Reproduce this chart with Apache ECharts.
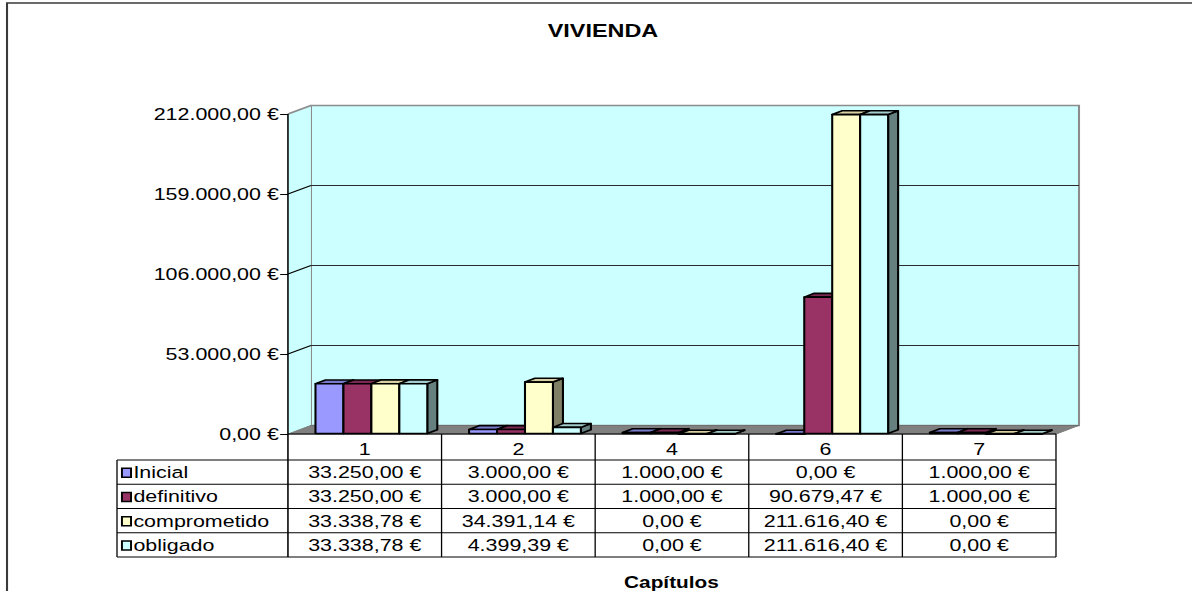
<!DOCTYPE html>
<html>
<head>
<meta charset="utf-8">
<script src="https://cdn.jsdelivr.net/npm/echarts@6/dist/echarts.min.js"></script>
<style>
  html, body { margin: 0; padding: 0; background: #fff; overflow: hidden; width: 1192px; height: 591px; }
  /* the chart is laid out on a narrower surface and widened, like a spreadsheet chart stretched to its cell range */
  #chart { width: 917px; height: 591px; transform: scaleX(1.3); transform-origin: 0 0; }
</style>
</head>
<body>
<div id="chart"></div>
<script>
// ---- data ----
const categories = ['1', '2', '4', '6', '7'];
const seriesNames = ['Inicial', 'definitivo', 'comprometido', 'obligado'];
const inicial      = [33250.00, 3000.00, 1000.00, 0.00, 1000.00];
const definitivo   = [33250.00, 3000.00, 1000.00, 90679.47, 1000.00];
const comprometido = [33338.78, 34391.14, 0.00, 211616.40, 0.00];
const obligado     = [33338.78, 4399.39, 0.00, 211616.40, 0.00];
const yTicks = [0, 53000, 106000, 159000, 212000];
const seriesValues = [inicial, definitivo, comprometido, obligado];

// ---- styling ----
const FONT = "'Liberation Sans', Arial, sans-serif";
const FONT_SIZE = 16.5;
const faces = [
  { front: '#9999FF', top: '#7A7ACC', side: '#4D4D80' },
  { front: '#993366', top: '#7A2952', side: '#4D1A33' },
  { front: '#FFFFCC', top: '#D6D0A3', side: '#808066' },
  { front: '#CCFFFF', top: '#A3CCCC', side: '#668080' }
];
const WALL_DX = 17.7, WALL_DY = -8.5;        // depth of the 3D walls
const BAR_W = 21.5, BAR_DX = 7.7, BAR_DY = -3.8, BAR_START = -37.9;
const ROW_TOP = 460, ROW_H = 24.25, LEGEND_LEFT = 90;
const LINE = '#000';

function euro(v) {
  const parts = v.toFixed(2).split('.');
  return parts[0].replace(/\B(?=(\d{3})+(?!\d))/g, '.') + ',' + parts[1] + ' €';
}
function rowCenter(k) { return ROW_TOP + ROW_H * (k + 0.5) + 0.5; }

// walls, floor, gridlines and the data table frame
function renderFrame(params, api) {
  const cs = params.coordSys;
  const left = cs.x, right = cs.x + cs.width, top = cs.y, bottom = cs.y + cs.height;
  const band = api.size([1, 0])[0];
  const tableBottom = ROW_TOP + ROW_H * seriesNames.length;
  const yMax = yTicks[yTicks.length - 1];
  const kids = [];
  const line = (x1, y1, x2, y2, color, w) => kids.push({
    type: 'line', shape: { x1, y1, x2, y2 }, style: { stroke: color || LINE, lineWidth: w || 1 }
  });

  // back wall
  kids.push({ type: 'rect', shape: { x: left + WALL_DX, y: top + WALL_DY, width: cs.width, height: cs.height },
    style: { fill: '#CCFFFF', stroke: '#8C8C8C', lineWidth: 1.6 } });
  // side wall
  kids.push({ type: 'polygon', shape: { points: [[left, top], [left + WALL_DX, top + WALL_DY], [left + WALL_DX, bottom + WALL_DY], [left, bottom]] },
    style: { fill: '#CCFFFF' } });
  line(left, top, left + WALL_DX, top + WALL_DY, '#8C8C8C', 1.6);

  // gridlines on both walls
  yTicks.forEach(v => {
    const y = api.coord([0, v])[1];
    if (v > 0 && v < yMax) {
      line(left + WALL_DX, y + WALL_DY, right + WALL_DX, y + WALL_DY, '#2a2a2a', 1.1);
      line(left, y, left + WALL_DX, y + WALL_DY, '#000', 1);
    }
  });

  // floor
  kids.push({ type: 'polygon', shape: { points: [[left, bottom], [right, bottom], [right + WALL_DX, bottom + WALL_DY], [left + WALL_DX, bottom + WALL_DY]] },
    style: { fill: '#808080', stroke: '#6f6f6f', lineWidth: 0.8 } });

  // value axis line continuing as the table's left edge
  line(left, top, left, tableBottom, '#000', 1.2);

  // data table
  line(left, bottom, right, bottom, '#000', 1.2);
  for (let k = 0; k <= seriesNames.length; k++) {
    const y = ROW_TOP + ROW_H * k;
    line(LEGEND_LEFT, y, right, y, '#000', 1);
  }
  line(LEGEND_LEFT, ROW_TOP, LEGEND_LEFT, tableBottom, '#000', 1);
  for (let i = 1; i <= categories.length; i++) {
    const x = left + band * i;
    line(x, bottom, x, tableBottom, '#000', 1);
  }
  return { type: 'group', children: kids };
}

// one 3D column plus its table cell (and legend key on the first item)
function makeBarRenderer(s) {
  return function (params, api) {
    const cat = api.value(0), val = api.value(1);
    const topPt = api.coord([cat, val]);
    const basePt = api.coord([cat, 0]);
    const x0 = topPt[0] + BAR_START + s * BAR_W, x1 = x0 + BAR_W;
    const yt = topPt[1], yb = basePt[1] - 0.5;
    const f = faces[s];
    const stroke = { stroke: '#000', lineWidth: 1.6, lineJoin: 'round' };
    const kids = [
      { type: 'polygon', shape: { points: [[x1, yt], [x1 + BAR_DX, yt + BAR_DY], [x1 + BAR_DX, yb + BAR_DY], [x1, yb]] },
        style: Object.assign({ fill: f.side }, stroke) },
      { type: 'polygon', shape: { points: [[x0, yt], [x0 + BAR_DX, yt + BAR_DY], [x1 + BAR_DX, yt + BAR_DY], [x1, yt]] },
        style: Object.assign({ fill: f.top }, stroke) },
      { type: 'rect', shape: { x: x0, y: yt, width: BAR_W, height: yb - yt },
        style: Object.assign({ fill: f.front }, stroke) },
      { type: 'text', x: topPt[0], y: rowCenter(s),
        style: { text: euro(val), fill: '#000', font: FONT_SIZE + 'px ' + FONT, align: 'center', verticalAlign: 'middle' } }
    ];
    if (params.dataIndex === 0) {
      kids.push({ type: 'rect', shape: { x: 93.8, y: rowCenter(s) - 4.5, width: 7, height: 9 },
        style: { fill: f.front, stroke: '#000', lineWidth: 1.5 } });
      kids.push({ type: 'text', x: 102.6, y: rowCenter(s),
        style: { text: seriesNames[s], fill: '#000', font: FONT_SIZE + 'px ' + FONT, align: 'left', verticalAlign: 'middle' } });
    }
    return { type: 'group', children: kids };
  };
}

const chart = echarts.init(document.getElementById('chart'), null, { renderer: 'svg' });

const series = [{
  type: 'custom', name: 'frame', z: 1, silent: true,
  data: [[0, 0]], renderItem: renderFrame
}];
seriesValues.forEach((vals, s) => {
  series.push({
    type: 'custom', name: seriesNames[s], z: 2, silent: true,
    data: vals.map((v, i) => [i, v]),
    encode: { x: 0, y: 1 },
    renderItem: makeBarRenderer(s)
  });
});

chart.setOption({
  animation: false,
  backgroundColor: '#fff',
  grid: { left: 221.5, right: 104.7, top: 114, bottom: 157 },
  xAxis: {
    type: 'category', data: categories,
    axisLine: { show: false }, axisTick: { show: false },
    axisLabel: { margin: 7, color: '#000', fontSize: FONT_SIZE, fontFamily: FONT }
  },
  yAxis: {
    type: 'value', min: yTicks[0], max: yTicks[yTicks.length - 1], interval: yTicks[1] - yTicks[0],
    axisLine: { show: false },
    axisTick: { show: true, length: 6, lineStyle: { color: '#000', width: 1 } },
    splitLine: { show: false },
    axisLabel: { margin: 7, color: '#000', fontSize: FONT_SIZE, fontFamily: FONT, formatter: euro }
  },
  graphic: [
    { type: 'rect', shape: { x: 5.4, y: 3, width: 1000, height: 700 }, silent: true,
      style: { fill: 'none', stroke: '#3a3a3a', lineWidth: 1.6 } },
    { type: 'text', x: 463.8, y: 31, silent: true,
      style: { text: 'VIVIENDA', fill: '#000', font: 'bold 18px ' + FONT, align: 'center', verticalAlign: 'middle' } },
    { type: 'text', x: 516.5, y: 582, silent: true,
      style: { text: 'Capítulos', fill: '#000', font: 'bold 16px ' + FONT, align: 'center', verticalAlign: 'middle' } }
  ],
  series: series
});
</script>
</body>
</html>
